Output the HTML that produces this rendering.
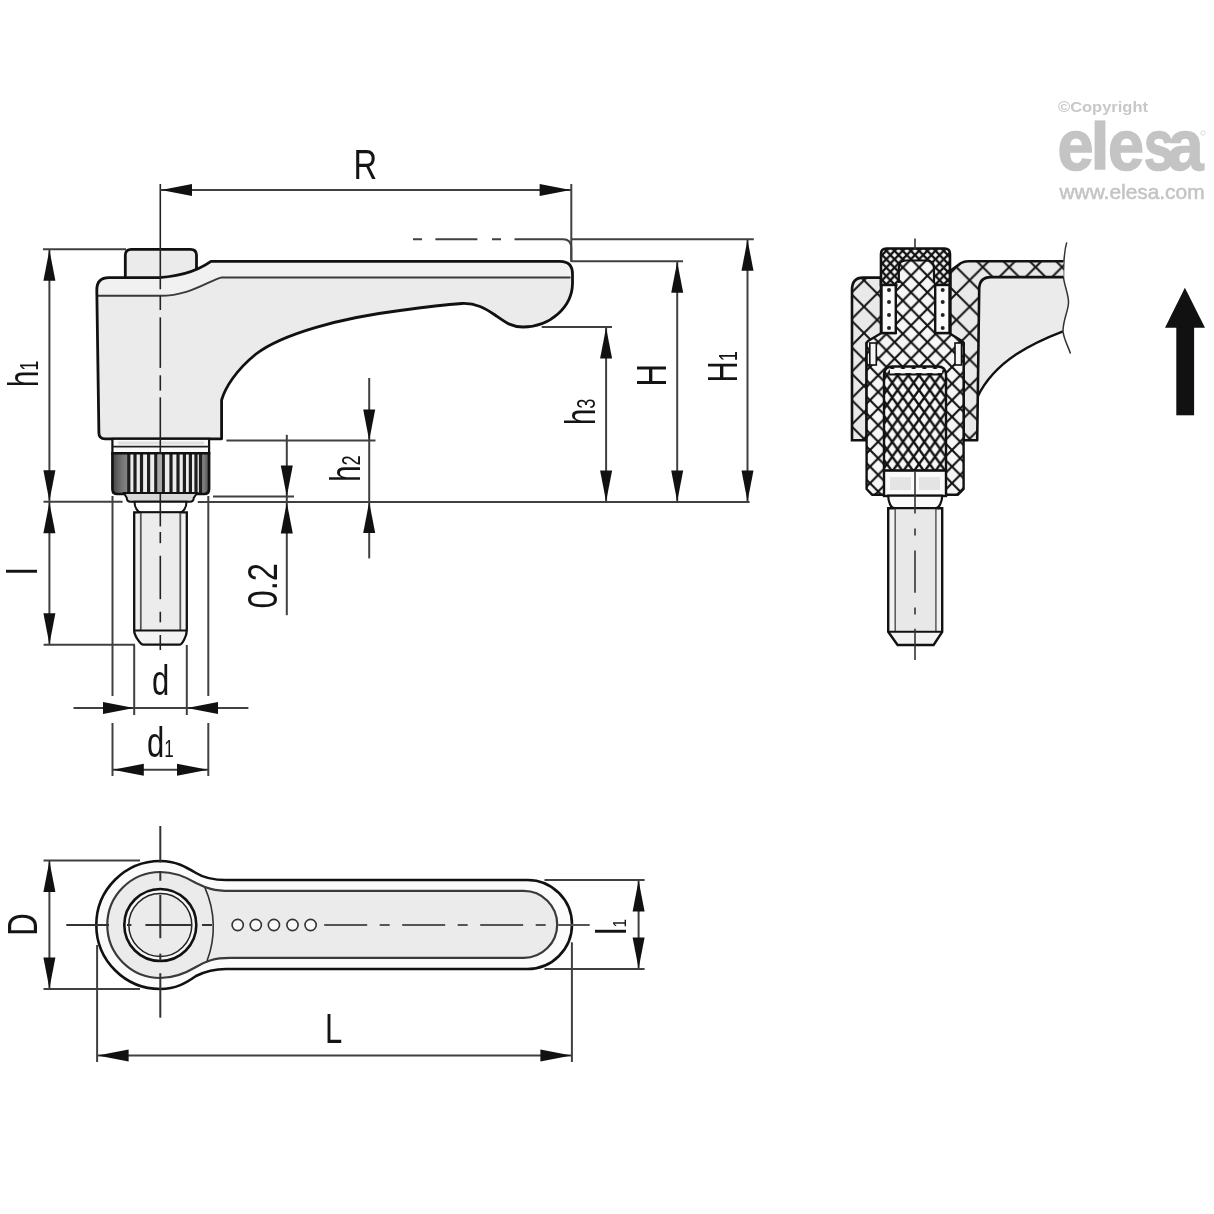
<!DOCTYPE html><html><head><meta charset="utf-8"><style>html,body{margin:0;padding:0;background:#fff;width:1214px;height:1214px;overflow:hidden}svg{display:block;will-change:transform}</style></head><body><svg width="1214" height="1214" viewBox="0 0 1214 1214">
<defs>
<pattern id="hc" width="26.4" height="26.4" patternUnits="userSpaceOnUse" x="864" y="306.7">
 <rect width="26.4" height="26.4" fill="#e9e9e9"/>
 <path d="M-1,-1 L27.4,27.4 M27.4,-1 L-1,27.4" stroke="#151515" stroke-width="2.0" fill="none"/>
</pattern>
<pattern id="hm" width="16.4" height="16.6" patternUnits="userSpaceOnUse" x="902.8" y="267.4">
 <rect width="16.4" height="16.6" fill="#f6f6f6"/>
 <path d="M-1,-1 L17.4,17.6 M17.4,-1 L-1,17.6" stroke="#111" stroke-width="2.1" fill="none"/>
</pattern>
<pattern id="hf" width="10.7" height="14.8" patternUnits="userSpaceOnUse" x="897.6" y="404.9">
 <rect width="10.7" height="14.8" fill="#f8f8f8"/>
 <path d="M-0.7,-1 L11.4,15.8 M11.4,-1 L-0.7,15.8" stroke="#111" stroke-width="2.4" fill="none"/>
</pattern>
<pattern id="hv" width="8.2" height="8.4" patternUnits="userSpaceOnUse" x="890.4" y="263.4">
 <rect width="8.2" height="8.4" fill="#f4f4f4"/>
 <path d="M-1,-1 L9.2,9.4 M9.2,-1 L-1,9.4" stroke="#111" stroke-width="2.3" fill="none"/>
</pattern>
<linearGradient id="knurl" x1="0" x2="1" y1="0" y2="0">
 <stop offset="0" stop-color="#333"/>
 <stop offset="0.12" stop-color="#666"/>
 <stop offset="0.2" stop-color="#2a2a2a"/>
 <stop offset="0.8" stop-color="#2a2a2a"/>
 <stop offset="0.9" stop-color="#666"/>
 <stop offset="1" stop-color="#333"/>
</linearGradient>
<linearGradient id="kl" x1="0" x2="1" y1="0" y2="0">
 <stop offset="0" stop-color="#444"/><stop offset="0.6" stop-color="#777"/><stop offset="1" stop-color="#888"/>
</linearGradient>
<linearGradient id="kr" x1="0" x2="1" y1="0" y2="0">
 <stop offset="0" stop-color="#888"/><stop offset="0.5" stop-color="#777"/><stop offset="1" stop-color="#444"/>
</linearGradient>
</defs>
<rect width="1214" height="1214" fill="#fff"/><path d="M125.3,282 L125.3,255.3 Q125.3,249.3 131.3,249.3 L190.5,249.3 Q196.5,249.3 196.5,255.3 L196.5,282 Z" fill="#ebebeb" stroke="#111" stroke-width="2.8"/>
<path d="M96.8,290 Q96.8,277.7 109,277.7 L150,277.7 C180,277.7 200,269 211,261.3 L560,261.3 Q572.5,261.3 572.5,274 L572.5,283 C572.5,307 550,327 523,327 C511,327 505,322 495,315 C485,308 476,303 462,303.5 C440,305 418,308 400,310.5 C340,318 282,334 256,354 C236,370 225,388 221.6,400 L221.6,438.8 L105,438.8 Q99,438.8 98.9,433 Z" fill="#ebebeb"/>
<path d="M96.8,290 Q96.8,277.7 109,277.7 L150,277.7 C180,277.7 200,269 211,261.3 L572,261.3 L572,277.4 L221.7,277.4 C208,281 190,295.8 160,295.8 L97.5,295.8 Z" fill="#f1f1f1"/>
<path d="M97.5,295.8 L160,295.8 C190,295.8 208,281 221.7,277.4 L570.5,277.4" fill="none" stroke="#3a3a3a" stroke-width="2"/>
<path d="M96.8,290 Q96.8,277.7 109,277.7 L150,277.7 C180,277.7 200,269 211,261.3 L560,261.3 Q572.5,261.3 572.5,274 L572.5,283 C572.5,307 550,327 523,327 C511,327 505,322 495,315 C485,308 476,303 462,303.5 C440,305 418,308 400,310.5 C340,318 282,334 256,354 C236,370 225,388 221.6,400 L221.6,438.8 L105,438.8 Q99,438.8 98.9,433 Z" fill="none" stroke="#111" stroke-width="2.8" stroke-linejoin="round"/>
<rect x="112.4" y="438.8" width="96.7" height="15" fill="#fafafa" stroke="#111" stroke-width="2.2"/>
<line x1="112.4" y1="446.6" x2="209.1" y2="446.6" stroke="#222" stroke-width="1.8"/>
<rect x="118" y="441.5" width="86" height="3" fill="#e0e0e0"/>
<path d="M112.4,453.3 L209.1,453.3 L209.1,489 Q209.1,494 204,494 L117.4,494 Q112.4,494 112.4,489 Z" fill="#ececec"/>
<rect x="112.4" y="453.3" width="16.4" height="40.7" fill="url(#kl)"/>
<rect x="200.5" y="453.3" width="8.6" height="40.7" fill="url(#kr)"/>
<rect x="157.6" y="455" width="3.6" height="38" fill="#a8a8a8"/>
<rect x="127.20000000000002" y="453.3" width="3.2" height="40.7" fill="#1e1e1e"/>
<rect x="133.4" y="453.3" width="3.2" height="40.7" fill="#1e1e1e"/>
<rect x="139.9" y="453.3" width="3.2" height="40.7" fill="#1e1e1e"/>
<rect x="147.0" y="453.3" width="3.2" height="40.7" fill="#1e1e1e"/>
<rect x="154.20000000000002" y="453.3" width="3.2" height="40.7" fill="#1e1e1e"/>
<rect x="161.70000000000002" y="453.3" width="3.2" height="40.7" fill="#1e1e1e"/>
<rect x="169.4" y="453.3" width="3.2" height="40.7" fill="#1e1e1e"/>
<rect x="176.4" y="453.3" width="3.2" height="40.7" fill="#1e1e1e"/>
<rect x="182.8" y="453.3" width="3.2" height="40.7" fill="#1e1e1e"/>
<rect x="188.8" y="453.3" width="3.2" height="40.7" fill="#1e1e1e"/>
<rect x="194.4" y="453.3" width="3.2" height="40.7" fill="#1e1e1e"/>
<rect x="198.9" y="453.3" width="3.2" height="40.7" fill="#1e1e1e"/>
<path d="M112.4,453.3 L209.1,453.3 L209.1,489 Q209.1,494 204,494 L117.4,494 Q112.4,494 112.4,489 Z" fill="none" stroke="#111" stroke-width="2.6"/>
<path d="M124,493 L197,493 L193.7,498 Q193.7,501.7 190,501.7 L130.5,501.7 Q126.8,501.7 126.8,498 Z" fill="#d8d8d8" stroke="#111" stroke-width="2"/>
<path d="M134.5,501.7 L186.5,501.7 C186.5,508 183,512.4 180,512.4 L141,512.4 C138,512.4 134.5,508 134.5,501.7 Z" fill="#fff" stroke="#111" stroke-width="2"/>
<path d="M134.2,512.4 L186.8,512.4 L186.8,630.5 C186.8,636 182,644.7 179.5,644.7 L143.3,644.7 C140.8,644.7 134.2,636 134.2,630.5 Z" fill="#f2f2f2" stroke="#111" stroke-width="2.3"/>
<rect x="141.5" y="513.5" width="38" height="116" fill="#ececec"/>
<line x1="140.8" y1="513" x2="140.8" y2="630" stroke="#555" stroke-width="1.8"/>
<line x1="180.3" y1="513" x2="180.3" y2="630" stroke="#555" stroke-width="1.8"/>
<line x1="134.2" y1="630.5" x2="186.8" y2="630.5" stroke="#111" stroke-width="2"/>
<line x1="160.3" y1="184" x2="160.3" y2="289.3" stroke="#222" stroke-width="1.6" />
<line x1="160.3" y1="296" x2="160.3" y2="310" stroke="#222" stroke-width="1.6" />
<line x1="160.3" y1="317.4" x2="160.3" y2="367.9" stroke="#222" stroke-width="1.6" />
<line x1="160.3" y1="375.3" x2="160.3" y2="390.6" stroke="#222" stroke-width="1.6" />
<line x1="160.3" y1="397.3" x2="160.3" y2="453.5" stroke="#222" stroke-width="1.6" />
<line x1="160.3" y1="494" x2="160.3" y2="526.4" stroke="#222" stroke-width="1.6" />
<line x1="160.3" y1="532" x2="160.3" y2="543.2" stroke="#222" stroke-width="1.6" />
<line x1="160.3" y1="555.8" x2="160.3" y2="599.2" stroke="#222" stroke-width="1.6" />
<line x1="160.3" y1="611.8" x2="160.3" y2="622.3" stroke="#222" stroke-width="1.6" />
<line x1="160.3" y1="635" x2="160.3" y2="650" stroke="#222" stroke-width="1.6" />
<line x1="160.3" y1="190" x2="571.3" y2="190" stroke="#404040" stroke-width="2.0" />
<polygon points="161.0,190.0 192.0,184.0 192.0,196.0" fill="#111"/>
<polygon points="570.6,190.0 539.6,184.0 539.6,196.0" fill="#111"/>
<line x1="571.3" y1="184" x2="571.3" y2="262" stroke="#404040" stroke-width="2.0" />
<text transform="translate(353.5 178.8) scale(0.78 1)" font-family="Liberation Sans" font-size="42" font-weight="normal" fill="#141414" text-anchor="start">R</text>
<line x1="43" y1="249.3" x2="126" y2="249.3" stroke="#404040" stroke-width="2.0" />
<line x1="49.4" y1="249.3" x2="49.4" y2="644.7" stroke="#404040" stroke-width="2.0" />
<polygon points="49.4,249.8 43.4,280.8 55.4,280.8" fill="#111"/>
<polygon points="49.4,501.2 43.4,470.2 55.4,470.2" fill="#111"/>
<line x1="43.5" y1="501.8" x2="122.6" y2="501.8" stroke="#404040" stroke-width="2.0" />
<polygon points="49.4,502.3 43.4,533.3 55.4,533.3" fill="#111"/>
<polygon points="49.4,644.2 43.4,613.2 55.4,613.2" fill="#111"/>
<line x1="43.6" y1="644.7" x2="135" y2="644.7" stroke="#404040" stroke-width="2.0" />
<text transform="translate(38 387) rotate(-90) scale(0.7 1)" font-family="Liberation Sans" font-size="42" font-weight="normal" fill="#141414" text-anchor="start">h<tspan font-size="26" dy="0">1</tspan></text>
<text transform="translate(36.6 575) rotate(-90) scale(0.8 1)" font-family="Liberation Sans" font-size="42" font-weight="normal" fill="#141414" text-anchor="start">l</text>
<line x1="112.5" y1="496" x2="112.5" y2="696" stroke="#404040" stroke-width="2.0" />
<line x1="112.5" y1="723" x2="112.5" y2="776" stroke="#404040" stroke-width="2.0" />
<line x1="208.3" y1="496" x2="208.3" y2="696" stroke="#404040" stroke-width="2.0" />
<line x1="208.3" y1="723" x2="208.3" y2="776" stroke="#404040" stroke-width="2.0" />
<line x1="134.2" y1="645" x2="134.2" y2="715" stroke="#404040" stroke-width="2.0" />
<line x1="186.8" y1="645" x2="186.8" y2="715" stroke="#404040" stroke-width="2.0" />
<line x1="73.5" y1="708" x2="248.4" y2="708" stroke="#404040" stroke-width="2.0" />
<polygon points="134.0,708.0 103.0,702.0 103.0,714.0" fill="#111"/>
<polygon points="187.0,708.0 218.0,702.0 218.0,714.0" fill="#111"/>
<text transform="translate(152 694.9) scale(0.74 1)" font-family="Liberation Sans" font-size="42" font-weight="normal" fill="#141414" text-anchor="start">d</text>
<line x1="112.3" y1="769.8" x2="208.5" y2="769.8" stroke="#404040" stroke-width="2.0" />
<polygon points="112.8,769.8 143.8,763.8 143.8,775.8" fill="#111"/>
<polygon points="208.0,769.8 177.0,763.8 177.0,775.8" fill="#111"/>
<text transform="translate(147 757.2) scale(0.74 1)" font-family="Liberation Sans" font-size="42" font-weight="normal" fill="#141414" text-anchor="start">d<tspan font-size="23">1</tspan></text>
<line x1="286.8" y1="434.8" x2="286.8" y2="615.2" stroke="#404040" stroke-width="2.0" />
<polygon points="286.8,496.6 280.8,465.6 292.8,465.6" fill="#111"/>
<polygon points="286.8,502.4 280.8,533.4 292.8,533.4" fill="#111"/>
<line x1="213" y1="496.6" x2="294" y2="496.6" stroke="#404040" stroke-width="2.0" />
<line x1="197.8" y1="501.9" x2="749.6" y2="501.9" stroke="#404040" stroke-width="2.0" />
<text transform="translate(277.4 608.5) rotate(-90) scale(0.78 1)" font-family="Liberation Sans" font-size="42" font-weight="normal" fill="#141414" text-anchor="start">0.2</text>
<line x1="226.4" y1="440.6" x2="375.5" y2="440.6" stroke="#404040" stroke-width="2.0" />
<line x1="369.2" y1="378" x2="369.2" y2="558.4" stroke="#404040" stroke-width="2.0" />
<polygon points="369.2,440.6 363.2,409.6 375.2,409.6" fill="#111"/>
<polygon points="369.2,502.0 363.2,533.0 375.2,533.0" fill="#111"/>
<text transform="translate(359.8 481.8) rotate(-90) scale(0.7 1)" font-family="Liberation Sans" font-size="42" font-weight="normal" fill="#141414" text-anchor="start">h<tspan font-size="26">2</tspan></text>
<line x1="541.7" y1="326.9" x2="612" y2="326.9" stroke="#404040" stroke-width="2.0" />
<line x1="606.1" y1="326.9" x2="606.1" y2="502" stroke="#404040" stroke-width="2.0" />
<polygon points="606.1,327.4 600.1,358.4 612.1,358.4" fill="#111"/>
<polygon points="606.1,501.5 600.1,470.5 612.1,470.5" fill="#111"/>
<text transform="translate(595.4 425) rotate(-90) scale(0.7 1)" font-family="Liberation Sans" font-size="42" font-weight="normal" fill="#141414" text-anchor="start">h<tspan font-size="26">3</tspan></text>
<line x1="572" y1="261.3" x2="683" y2="261.3" stroke="#404040" stroke-width="2.0" />
<line x1="677.2" y1="261.3" x2="677.2" y2="502" stroke="#404040" stroke-width="2.0" />
<polygon points="677.2,261.8 671.2,292.8 683.2,292.8" fill="#111"/>
<polygon points="677.2,501.5 671.2,470.5 683.2,470.5" fill="#111"/>
<text transform="translate(665.5 386.5) rotate(-90) scale(0.74 1)" font-family="Liberation Sans" font-size="42" font-weight="normal" fill="#141414" text-anchor="start">H</text>
<line x1="571.3" y1="239.2" x2="753.8" y2="239.2" stroke="#404040" stroke-width="2.0" />
<line x1="747.5" y1="239.2" x2="747.5" y2="502" stroke="#404040" stroke-width="2.0" />
<polygon points="747.5,239.7 741.5,270.7 753.5,270.7" fill="#111"/>
<polygon points="747.5,501.5 741.5,470.5 753.5,470.5" fill="#111"/>
<text transform="translate(736.7 382.5) rotate(-90) scale(0.7 1)" font-family="Liberation Sans" font-size="42" font-weight="normal" fill="#141414" text-anchor="start">H<tspan font-size="26">1</tspan></text>
<path d="M413,239.2 H422 M435.4,239.2 H477.4 M492,239.2 H501 M514.5,239.2 H563 Q571.3,239.2 571.3,248 V261" fill="none" stroke="#404040" stroke-width="2.0"/>
<path d="M979.3,285 L979.3,277 L1063.6,277 C1068,290 1068.5,300 1068,305 C1067,315 1063,325 1063,331.3 C1035,342 995,360 977.5,397 Z" fill="#ebebeb"/>
<path d="M1063,331.3 C1035,342 995,360 977.5,397" fill="none" stroke="#111" stroke-width="2.4"/>
<path d="M1066.7,242.4 C1064,252 1063.5,262 1063.5,277 C1064,285 1069,295 1068.5,303 C1068,312 1063,320 1063,331.3 C1064,340 1069,348 1070.4,353.6" fill="none" stroke="#333" stroke-width="1.5"/>
<path d="M852,290 Q852,277.6 863,277.6 L881,277.6 L881,336 L866.6,343 L866.6,440.3 L852,440.3 Z" fill="url(#hc)" stroke="#111" stroke-width="2.6"/>
<path d="M950.4,270.8 L961,263 Q964,261.2 968,261.2 L1063.6,261.2 L1063.6,277.1 L991,277.1 Q979.2,277.1 979.2,289.2 L977.2,440.3 L963.6,440.3 L963.6,343 L950.4,336 Z" fill="url(#hc)"/>
<path d="M1063.6,277.1 L991,277.1 Q979.2,277.1 979.2,289.2 L977.2,440.3 L963.6,440.3 L963.6,343 L950.4,336 L950.4,270.8 L961,263 Q964,261.2 968,261.2 L1063.6,261.2" fill="none" stroke="#111" stroke-width="2.6" stroke-linejoin="round"/>
<path d="M895.6,285 L895.6,333 L881.5,333 L868,341 L866.6,343 L866.6,489 L872,494.7 L958,494.7 L963.6,489 L963.6,343 L962,341 L949,333 L935.2,333 L935.2,285 Z" fill="url(#hm)" stroke="#111" stroke-width="2.4" stroke-linejoin="round"/>
<path d="M881,285 L881,254 Q881,248.5 886.5,248.5 L944.5,248.5 Q950,248.5 950,254 L950,285 Z" fill="url(#hv)" stroke="#111" stroke-width="2.6"/>
<path d="M898.8,286 L898.8,268 Q898.8,260.5 906,260.5 L926.5,260.5 Q934,260.5 934,268 L934,286 Z" fill="url(#hm)" stroke="#111" stroke-width="2.2"/>
<rect x="897.5" y="283" width="37.5" height="6" fill="url(#hm)"/>
<rect x="881.5" y="285" width="14.3" height="48" fill="#fbfbfb" stroke="#111" stroke-width="2.4"/>
<circle cx="889.0" cy="290" r="2" fill="#222"/>
<circle cx="889.0" cy="302" r="2" fill="#222"/>
<circle cx="889.0" cy="315" r="2" fill="#222"/>
<circle cx="889.0" cy="328" r="2" fill="#222"/>
<rect x="935.2" y="285" width="14.3" height="48" fill="#fbfbfb" stroke="#111" stroke-width="2.4"/>
<circle cx="942.7" cy="290" r="2" fill="#222"/>
<circle cx="942.7" cy="302" r="2" fill="#222"/>
<circle cx="942.7" cy="315" r="2" fill="#222"/>
<circle cx="942.7" cy="328" r="2" fill="#222"/>
<rect x="869.8" y="343" width="6.5" height="22" fill="#f6f6f6" stroke="#111" stroke-width="1.6"/>
<rect x="955" y="343" width="6.5" height="22" fill="#f6f6f6" stroke="#111" stroke-width="1.6"/>
<path d="M884,470.6 L884,375 Q884,366.5 892.5,366.5 L937.5,366.5 Q946,366.5 946,375 L946,470.6 Z" fill="url(#hf)" stroke="#111" stroke-width="2.4"/>
<path d="M890,371 L942,371" stroke="#fafafa" stroke-width="4"/>
<path d="M889,374.5 L942,374.5" stroke="#111" stroke-width="1.8"/>
<rect x="884" y="470.6" width="62" height="25.4" fill="#fafafa" stroke="#111" stroke-width="2.4"/>
<rect x="890" y="477" width="21" height="13" fill="#e4e4e4"/>
<rect x="919" y="477" width="21" height="13" fill="#e4e4e4"/>
<path d="M888.2,495.6 L942.2,495.6 C942.2,502 939,508.2 936,508.2 L894,508.2 C891,508.2 888.2,502 888.2,495.6 Z" fill="#fafafa" stroke="#111" stroke-width="2.2"/>
<path d="M888.2,508.2 L942.2,508.2 L942.2,631.8 L933.6,645 L897.6,645 L888.2,631.8 Z" fill="#f2f2f2" stroke="#111" stroke-width="2.4"/>
<rect x="896" y="509.5" width="39" height="121" fill="#e8e8e8"/>
<line x1="895.2" y1="509" x2="895.2" y2="631" stroke="#555" stroke-width="1.5"/>
<line x1="935.9" y1="509" x2="935.9" y2="631" stroke="#555" stroke-width="1.5"/>
<line x1="888.2" y1="631.8" x2="942.2" y2="631.8" stroke="#111" stroke-width="2"/>
<line x1="915" y1="238.6" x2="915" y2="250" stroke="#333" stroke-width="1.6" />
<line x1="915" y1="471" x2="915" y2="513.6" stroke="#333" stroke-width="1.6" />
<line x1="915" y1="528.5" x2="915" y2="535.6" stroke="#333" stroke-width="1.6" />
<line x1="915" y1="550.4" x2="915" y2="592.7" stroke="#333" stroke-width="1.6" />
<line x1="915" y1="607.6" x2="915" y2="614.6" stroke="#333" stroke-width="1.6" />
<line x1="915" y1="628.7" x2="915" y2="660" stroke="#333" stroke-width="1.6" />
<polygon points="1165,327.8 1184.9,287.7 1205,327.8" fill="#111"/>
<rect x="1176.3" y="326" width="17.8" height="89.3" fill="#111"/>
<text transform="translate(1058 112.3) scale(1.1 1)" font-family="Liberation Sans" font-size="15" font-weight="bold" fill="#c8c8c8" text-anchor="start">&#169;Copyright</text>
<text transform="translate(1057.5 169.7) scale(0.9 1.0)" font-family="Liberation Sans" font-size="72" font-weight="bold" fill="#c4c4c4" stroke="#c4c4c4" stroke-width="1.5">e</text>
<text transform="translate(1108.1 169.7) scale(0.9 1.0)" font-family="Liberation Sans" font-size="72" font-weight="bold" fill="#c4c4c4" stroke="#c4c4c4" stroke-width="1.5">e</text>
<text transform="translate(1143.8 169.7) scale(0.76 1.0)" font-family="Liberation Sans" font-size="72" font-weight="bold" fill="#c4c4c4" stroke="#c4c4c4" stroke-width="1.5">s</text>
<text transform="translate(1167.6 169.7) scale(0.9 1.0)" font-family="Liberation Sans" font-size="72" font-weight="bold" fill="#c4c4c4" stroke="#c4c4c4" stroke-width="1.5">a</text>
<rect x="1094.6" y="120.4" width="10.8" height="49.3" fill="#c4c4c4"/>
<circle cx="1203" cy="133" r="2.2" fill="none" stroke="#d0d0d0" stroke-width="0.8"/>
<text transform="translate(1059.5 198.8) scale(1.045 1)" font-family="Liberation Sans" font-size="20" fill="#c4c4c4" stroke="#c4c4c4" stroke-width="0.5">www.elesa.com</text>
<path d="M226,880 L527.5,880 A44.5,44.5 0 0 1 527.5,969 L226,969 C212,969 204,972 196,976 C186,983 176,989 160.3,989 A64,64 0 0 1 160.3,861 C176,861 186,867 196,873 C204,878 212,880 226,880 Z" fill="#fbfbfb" stroke="#111" stroke-width="2.6"/>
<path d="M230,890.9 L523.7,890.9 A33.5,33.5 0 0 1 523.7,957.9 L230,957.9 C214,957.9 206,961 196,967 C186,973 175,978 160.3,978 A53,53 0 0 1 160.3,872 C175,872 186,877 196,883 C206,888 214,890.9 230,890.9 Z" fill="#ebebeb" stroke="#3a3a3a" stroke-width="2.2"/>
<path d="M205,887.8 A96,96 0 0 1 207,961" fill="none" stroke="#333" stroke-width="1.6"/>
<circle cx="160.3" cy="925" r="36" fill="#f6f6f6" stroke="#111" stroke-width="2.6"/>
<circle cx="160.3" cy="925" r="31.5" fill="#ebebeb" stroke="#222" stroke-width="1.5"/>
<line x1="66.3" y1="925" x2="109" y2="925" stroke="#333" stroke-width="2.0" />
<line x1="127" y1="925" x2="131.4" y2="925" stroke="#333" stroke-width="2.0" />
<line x1="145.4" y1="925" x2="191.6" y2="925" stroke="#333" stroke-width="2.0" />
<line x1="202" y1="925" x2="212" y2="925" stroke="#333" stroke-width="2.0" />
<line x1="160.3" y1="826" x2="160.3" y2="862.6" stroke="#333" stroke-width="2.0" />
<line x1="160.3" y1="871" x2="160.3" y2="880.8" stroke="#333" stroke-width="2.0" />
<line x1="160.3" y1="894.8" x2="160.3" y2="938.2" stroke="#333" stroke-width="2.0" />
<line x1="160.3" y1="953.6" x2="160.3" y2="960.6" stroke="#333" stroke-width="2.0" />
<line x1="160.3" y1="973.2" x2="160.3" y2="1017.7" stroke="#333" stroke-width="2.0" />
<circle cx="237.7" cy="925" r="5.6" fill="#fafafa" stroke="#333" stroke-width="1.6"/>
<circle cx="255.8" cy="925" r="5.6" fill="#fafafa" stroke="#333" stroke-width="1.6"/>
<circle cx="273.9" cy="925" r="5.6" fill="#fafafa" stroke="#333" stroke-width="1.6"/>
<circle cx="292.5" cy="925" r="5.6" fill="#fafafa" stroke="#333" stroke-width="1.6"/>
<circle cx="310.6" cy="925" r="5.6" fill="#fafafa" stroke="#333" stroke-width="1.6"/>
<path d="M324.2,925 H589.7" stroke="#555" stroke-width="1.8" stroke-dasharray="43 12.5 10 12.5" stroke-dashoffset="0"/>
<line x1="43.5" y1="860.5" x2="140" y2="860.5" stroke="#404040" stroke-width="2.0" />
<line x1="43.5" y1="989" x2="140" y2="989" stroke="#404040" stroke-width="2.0" />
<line x1="49.4" y1="860.5" x2="49.4" y2="989" stroke="#404040" stroke-width="2.0" />
<polygon points="49.4,861.0 43.4,892.0 55.4,892.0" fill="#111"/>
<polygon points="49.4,988.5 43.4,957.5 55.4,957.5" fill="#111"/>
<text transform="translate(36.6 935.7) rotate(-90) scale(0.74 1)" font-family="Liberation Sans" font-size="42" font-weight="normal" fill="#141414" text-anchor="start">D</text>
<line x1="97.1" y1="945" x2="97.1" y2="1062" stroke="#404040" stroke-width="2.0" />
<line x1="571.9" y1="942.3" x2="571.9" y2="1062" stroke="#404040" stroke-width="2.0" />
<line x1="97.1" y1="1055.4" x2="571.9" y2="1055.4" stroke="#404040" stroke-width="2.0" />
<polygon points="97.6,1055.4 128.6,1049.4 128.6,1061.4" fill="#111"/>
<polygon points="571.4,1055.4 540.4,1049.4 540.4,1061.4" fill="#111"/>
<text transform="translate(325 1042.5) scale(0.74 1)" font-family="Liberation Sans" font-size="42" font-weight="normal" fill="#141414" text-anchor="start">L</text>
<line x1="544.5" y1="880" x2="644.6" y2="880" stroke="#404040" stroke-width="2.0" />
<line x1="544.5" y1="969" x2="644.6" y2="969" stroke="#404040" stroke-width="2.0" />
<line x1="638.6" y1="880" x2="638.6" y2="969" stroke="#404040" stroke-width="2.0" />
<polygon points="638.6,880.5 632.6,911.5 644.6,911.5" fill="#111"/>
<polygon points="638.6,968.5 632.6,937.5 644.6,937.5" fill="#111"/>
<text transform="translate(626 935) rotate(-90) scale(0.8 1)" font-family="Liberation Sans" font-size="42" font-weight="normal" fill="#141414" text-anchor="start">l<tspan font-size="19">1</tspan></text></svg></body></html>
